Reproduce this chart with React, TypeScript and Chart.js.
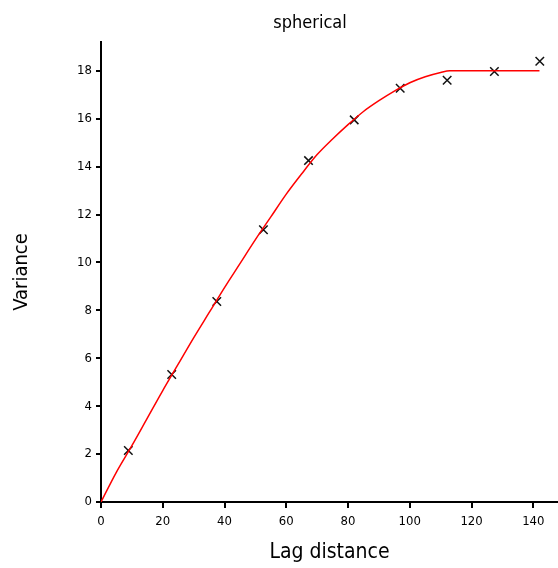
import React, { useEffect, useRef } from "react";
import { Chart, registerables } from "chart.js";

Chart.register(...registerables);

const chartTitle = "spherical";
const xTitle = "Lag distance";
const yTitle = "Variance";

// empirical variogram points (lag, variance)
const lagX = [8.85, 22.9, 37.5, 52.6, 67.2, 82.0, 96.9, 112.1, 127.4, 142.1];
const lagY = [2.15, 5.32, 8.37, 11.36, 14.25, 15.95, 17.27, 17.6, 17.97, 18.4];

// fitted spherical model
const modelX = [0, 5, 10, 15, 20, 25, 30, 35, 40, 45, 50, 55, 60, 65, 70, 75, 80, 85, 90, 95, 100, 105, 110, 113, 142];
const modelY = [0, 1.25, 2.35, 3.5, 4.65, 5.75, 6.85, 7.9, 8.95, 9.95, 10.95, 11.9, 12.85, 13.7, 14.5, 15.15, 15.75, 16.3, 16.75, 17.15, 17.5, 17.75, 17.93, 18.0, 18.0];

const xTicks = [0, 20, 40, 60, 80, 100, 120, 140];
const yTicks = [0, 2, 4, 6, 8, 10, 12, 14, 16, 18];

const FONT = "'Liberation Sans Narrow', 'DejaVu Sans Condensed', 'DejaVu Sans', sans-serif";

export default function App() {
  const ref = useRef<HTMLCanvasElement | null>(null);

  useEffect(() => {
    document.body.style.margin = "0";
    const canvas = ref.current;
    if (!canvas) return;

    const titlePlugin = {
      id: "customTitle",
      afterDraw(chart: any) {
        const ctx = chart.ctx;
        ctx.save();
        ctx.fillStyle = "#000";
        ctx.font = `18px ${FONT}`;
        ctx.textAlign = "center";
        ctx.textBaseline = "alphabetic";
        ctx.fillText(chartTitle, 310, 28);
        ctx.restore();
      },
    };

    const chart = new Chart(canvas, {
      type: "scatter",
      data: {
        datasets: [
          {
            label: "model",
            data: modelX.map((x, i) => ({ x, y: modelY[i] })),
            showLine: true,
            borderColor: "#ff0000",
            borderWidth: 1.5,
            pointRadius: 0,
            cubicInterpolationMode: "monotone",
            fill: false,
          },
          {
            label: "empirical",
            data: lagX.map((x, i) => ({ x, y: lagY[i] })),
            showLine: false,
            pointStyle: "crossRot",
            pointRadius: 6,
            borderColor: "#111",
            borderWidth: 1.5,
            backgroundColor: "#111",
          },
        ],
      },
      options: {
        animation: false,
        responsive: false,
        maintainAspectRatio: false,
        layout: { autoPadding: false, padding: { top: 42, right: 0, left: 0, bottom: 0 } },
        plugins: {
          legend: { display: false },
          tooltip: { enabled: false },
          title: { display: false },
        },
        scales: {
          x: {
            type: "linear",
            min: 0,
            max: 148,
            afterFit: (s: any) => {
              s.height = 66;
              s.paddingLeft = 0;
              s.paddingRight = 0;
            },
            afterBuildTicks: (s: any) => {
              s.ticks = xTicks.map((v) => ({ value: v }));
            },
            ticks: {
              color: "#000",
              font: { family: FONT, size: 13 },
              padding: 6,
              maxRotation: 0,
              includeBounds: false,
            },
            grid: {
              display: true,
              drawOnChartArea: false,
              drawTicks: true,
              tickLength: 6,
              color: "#000",
              lineWidth: 2,
            },
            border: { display: true, color: "#000", width: 2 },
            title: {
              display: true,
              text: xTitle,
              color: "#000",
              font: { family: FONT, size: 21 },
              padding: { top: 0, bottom: 3 },
            },
          },
          y: {
            type: "linear",
            min: 0,
            max: 19.2,
            afterFit: (s: any) => {
              s.width = 101;
              s.paddingTop = 0;
              s.paddingBottom = 0;
            },
            afterBuildTicks: (s: any) => {
              s.ticks = yTicks.map((v) => ({ value: v }));
            },
            ticks: {
              color: "#000",
              font: { family: FONT, size: 13 },
              padding: 4,
              includeBounds: false,
            },
            grid: {
              display: true,
              drawOnChartArea: false,
              drawTicks: true,
              tickLength: 5,
              color: "#000",
              lineWidth: 2,
            },
            border: { display: true, color: "#000", width: 2 },
            title: {
              display: true,
              text: yTitle,
              color: "#000",
              font: { family: FONT, size: 20 },
              padding: { top: 10, bottom: 0 },
            },
          },
        },
      },
      plugins: [titlePlugin],
    });

    return () => chart.destroy();
  }, []);

  return (
    <div style={{ width: 558, height: 568 }}>
      <canvas ref={ref} width={558} height={568} style={{ display: "block", width: 558, height: 568 }} />
    </div>
  );
}
